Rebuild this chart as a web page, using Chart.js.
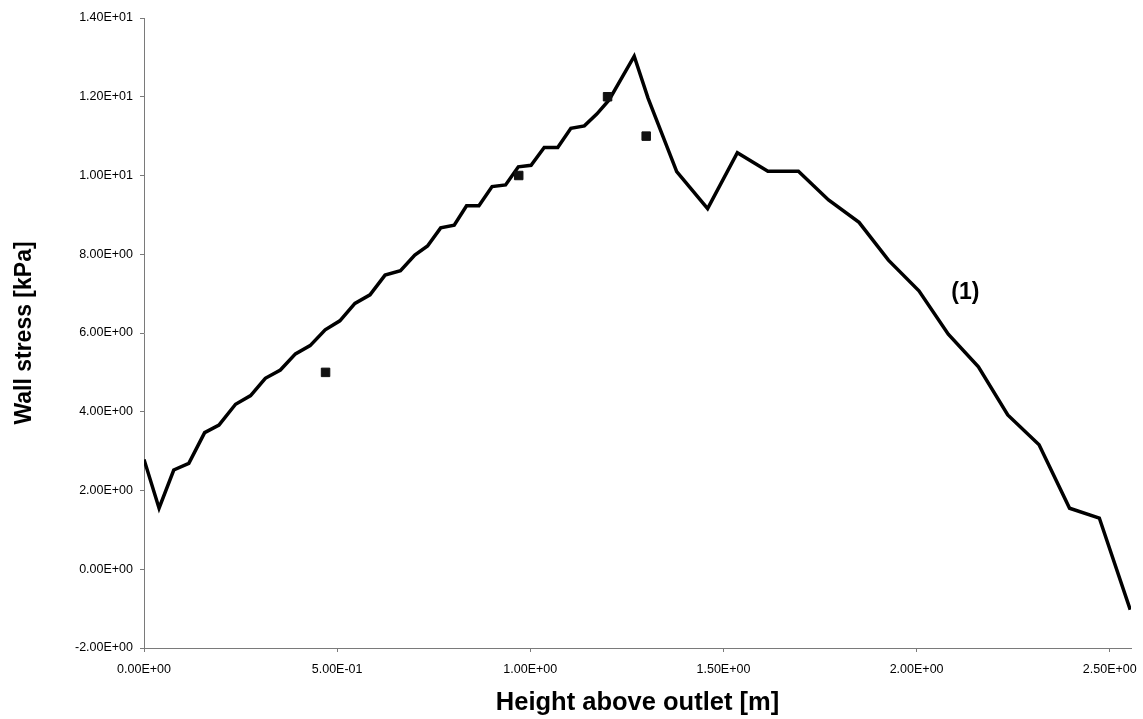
<!DOCTYPE html>
<html>
<head>
<meta charset="utf-8">
<title>Wall stress</title>
<script src="https://cdn.jsdelivr.net/npm/chart.js@4/dist/chart.umd.min.js"></script>
<style>
  html, body { margin: 0; padding: 0; background: #fff; }
  #wrap { width: 1143px; height: 719px; }
</style>
</head>
<body>
<div id="wrap"><canvas id="stressChart" width="1143" height="719"></canvas></div>
<script>
// computed wall stress profile, curve (1)
const heights = [
  0.000, 0.039, 0.077, 0.116, 0.157, 0.194, 0.237, 0.276, 0.314, 0.353,
  0.392, 0.430, 0.469, 0.507, 0.546, 0.585, 0.624, 0.664, 0.701, 0.734,
  0.768, 0.803, 0.835, 0.867, 0.901, 0.936, 0.969, 1.002, 1.036, 1.071,
  1.105, 1.140, 1.172, 1.204, 1.269, 1.305, 1.379, 1.459, 1.536, 1.615,
  1.694, 1.772, 1.851, 1.927, 2.006, 2.082, 2.160, 2.236, 2.317, 2.396,
  2.473, 2.553
];
const stress = [
  2.79, 1.55, 2.52, 2.69, 3.47, 3.66, 4.19, 4.41, 4.85, 5.06,
  5.47, 5.68, 6.08, 6.31, 6.75, 6.97, 7.47, 7.58, 7.98, 8.21,
  8.67, 8.74, 9.23, 9.23, 9.72, 9.76, 10.22, 10.26, 10.71, 10.71,
  11.20, 11.26, 11.56, 11.92, 13.03, 11.96, 10.10, 9.16, 10.58, 10.11,
  10.11, 9.38, 8.81, 7.85, 7.07, 5.97, 5.14, 3.92, 3.16, 1.55,
  1.30, -1.03
];

// measured points
const measuredHeights = [0.47, 0.97, 1.20, 1.30];
const measuredStress = [5.0, 10.0, 12.0, 11.0];

const xTickValues = [0, 0.5, 1.0, 1.5, 2.0, 2.5];
const yTickValues = [-2, 0, 2, 4, 6, 8, 10, 12, 14];

const curveLabel = { text: '(1)', x: 2.126, y: 7.02 };

const FONT = '"Liberation Sans", Arial, Helvetica, sans-serif';
const AXIS_GREY = '#7a7a7a';

function sci(v) {
  const [m, e] = Number(v).toExponential(2).split('e');
  const n = parseInt(e, 10);
  return m + 'E' + (n < 0 ? '-' : '+') + String(Math.abs(n)).padStart(2, '0');
}

const toPoints = (xs, ys) => xs.map((x, i) => ({ x, y: ys[i] }));

const curveLabelPlugin = {
  id: 'curveLabel',
  afterDatasetsDraw(chart) {
    const { ctx, scales } = chart;
    ctx.save();
    ctx.font = 'bold 23px ' + FONT;
    ctx.fillStyle = '#000';
    ctx.textAlign = 'center';
    ctx.textBaseline = 'middle';
    ctx.fillText(curveLabel.text, scales.x.getPixelForValue(curveLabel.x), scales.y.getPixelForValue(curveLabel.y));
    ctx.restore();
  }
};

const ctx = document.getElementById('stressChart').getContext('2d');

new Chart(ctx, {
  type: 'scatter',
  data: {
    datasets: [
      {
        label: 'measured',
        data: toPoints(measuredHeights, measuredStress),
        pointStyle: 'rect',
        pointRadius: 6,
        backgroundColor: '#111',
        borderColor: '#111',
        borderWidth: 1,
        showLine: false
      },
      {
        label: 'measured cross',
        data: toPoints(measuredHeights, measuredStress),
        pointStyle: 'crossRot',
        pointRadius: 5,
        borderColor: '#8a8a8a',
        borderWidth: 1,
        showLine: false
      },
      {
        label: '(1)',
        data: toPoints(heights, stress),
        showLine: true,
        borderColor: '#000',
        borderWidth: 3.5,
        pointRadius: 0,
        tension: 0
      }
    ]
  },
  options: {
    responsive: false,
    animation: false,
    devicePixelRatio: 1,
    layout: { padding: { left: 0, right: 12, top: 18, bottom: 0 } },
    plugins: {
      legend: { display: false },
      tooltip: { enabled: false }
    },
    scales: {
      x: {
        type: 'linear',
        min: 0,
        max: 2.555,
        afterBuildTicks: s => { s.ticks = xTickValues.map(v => ({ value: v })); },
        afterFit: s => {
          s.height = 71;
          // the last label fits inside the right margin, no extra room needed
          s.paddingLeft = 0;
          s.paddingRight = 0;
        },
        grid: { drawOnChartArea: false, tickLength: 4, color: AXIS_GREY },
        border: { color: AXIS_GREY, width: 1 },
        ticks: {
          padding: 10,
          maxRotation: 0,
          color: '#000',
          font: { family: FONT, size: 12.5 },
          callback: v => sci(v)
        },
        title: {
          display: true,
          text: 'Height above outlet [m]',
          color: '#000',
          font: { family: FONT, size: 25.5, weight: 'bold' },
          padding: { top: 0, bottom: 1 }
        }
      },
      y: {
        type: 'linear',
        min: -2,
        max: 14,
        afterBuildTicks: s => { s.ticks = yTickValues.map(v => ({ value: v })); },
        afterFit: s => { s.width = 144; },
        grid: { drawOnChartArea: false, tickLength: 4, color: AXIS_GREY },
        border: { color: AXIS_GREY, width: 1 },
        ticks: {
          padding: 7,
          color: '#000',
          font: { family: FONT, size: 12.5 },
          callback: v => sci(v)
        },
        title: {
          display: true,
          text: 'Wall stress [kPa]',
          color: '#000',
          font: { family: FONT, size: 23, weight: 'bold' },
          padding: { top: 11, bottom: 0 }
        }
      }
    }
  },
  plugins: [curveLabelPlugin]
});
</script>
</body>
</html>
